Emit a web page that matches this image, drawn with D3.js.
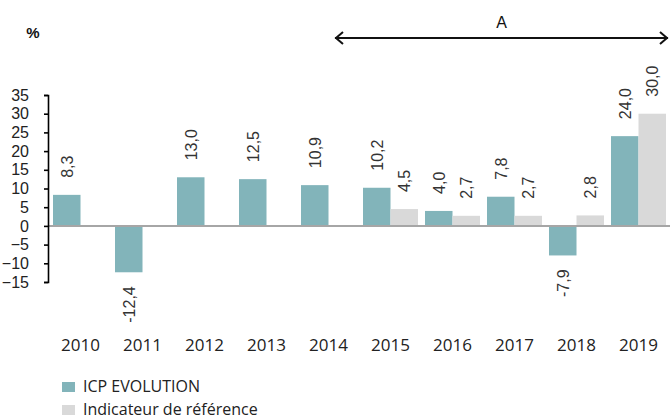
<!DOCTYPE html>
<html>
<head>
<meta charset="utf-8">
<script src="https://cdn.jsdelivr.net/npm/d3@7"></script>
<style>
  body { margin: 0; background: #fff; }
  svg { display: block; }
</style>
</head>
<body>
<svg width="670" height="419"></svg>
<script>
const years = ['2010', '2011', '2012', '2013', '2014', '2015', '2016', '2017', '2018', '2019']
const icpValues = [8.3, -12.4, 13.0, 12.5, 10.9, 10.2, 4.0, 7.8, -7.9, 24.0]
const refValues = [null, null, null, null, null, 4.5, 2.7, 2.7, 2.8, 30.0]
const yTicks = [35, 30, 25, 20, 15, 10, 5, 0, -5, -10, -15]
const seriesNames = ['ICP EVOLUTION', 'Indicateur de référence']
const periodLabel = 'A'
const periodYears = ['2015', '2019']

const colors = ['#82b4ba', '#d9d9d9']
const labelFont = '"Liberation Sans", Arial, sans-serif'
const textFont = '"Open Sans", sans-serif'

const svg = d3.select('svg')

const scaleX = d3.scaleBand().domain(years).range([53, 666]).paddingInner(7 / 62).paddingOuter(0)
const scaleSub = d3.scaleBand().domain([0, 1]).range([0, scaleX.bandwidth()])
const scaleY = d3.scaleLinear().domain([-15, 35]).range([282, 95])

const fmt = (v) => v.toFixed(1).replace('.', ',')

// rows: one per year & series
const rows = []
years.forEach((yr, i) => {
  rows.push({ year: yr, s: 0, v: icpValues[i] })
  if (refValues[i] !== null) rows.push({ year: yr, s: 1, v: refValues[i] })
})

// bars
svg.append('g')
  .selectAll('rect')
  .data(rows)
  .join('rect')
  .attr('x', (d) => scaleX(d.year) + scaleSub(d.s))
  .attr('width', scaleSub.bandwidth())
  .attr('y', (d) => scaleY(Math.max(0, d.v)))
  .attr('height', (d) => Math.abs(scaleY(d.v) - scaleY(0)))
  .attr('fill', (d) => colors[d.s])

// zero line
svg.append('line')
  .attr('x1', 48)
  .attr('x2', 670)
  .attr('y1', scaleY(0))
  .attr('y2', scaleY(0))
  .attr('stroke', '#a6a6a6')
  .attr('stroke-width', 2)

// y axis
const yAxis = d3.axisLeft(scaleY).tickValues(yTicks).tickSize(4).tickPadding(15).tickSizeOuter(4)
const gy = svg.append('g')
  .attr('transform', 'translate(48,0)')
  .call(yAxis)
gy.select('.domain').attr('stroke', '#000').attr('stroke-width', 1.6)
gy.selectAll('.tick line').attr('stroke', '#000').attr('stroke-width', 1.6)
gy.selectAll('.tick text')
  .attr('fill', '#222')
  .style('font-family', labelFont)
  .style('font-size', '16px')

// value labels
svg.append('g')
  .selectAll('text')
  .data(rows)
  .join('text')
  .attr('transform', (d) => {
    const cx = scaleX(d.year) + scaleSub(d.s) + scaleSub.bandwidth() / 2
    const cy = d.v >= 0 ? scaleY(d.v) - 17 : scaleY(d.v) + 14
    return `translate(${cx},${cy}) rotate(-90)`
  })
  .attr('dy', '0.36em')
  .attr('text-anchor', (d) => (d.v >= 0 ? 'start' : 'end'))
  .attr('fill', '#333')
  .style('font-family', labelFont)
  .style('font-size', '16px')
  .text((d) => fmt(d.v))

// x labels
svg.append('g')
  .selectAll('text')
  .data(years)
  .join('text')
  .attr('x', (d) => scaleX(d) + scaleX.bandwidth() / 2)
  .attr('y', 351)
  .attr('text-anchor', 'middle')
  .attr('fill', '#222')
  .style('font-family', textFont)
  .style('font-size', '17px')
  .text((d) => d)

// % unit
svg.append('text')
  .attr('x', 33)
  .attr('y', 38)
  .attr('text-anchor', 'middle')
  .attr('fill', '#111')
  .style('font-family', labelFont)
  .style('font-weight', 'bold')
  .style('font-size', '15px')
  .text('%')

// period arrow
const ax1 = scaleX(periodYears[0]) - 28
const ax2 = 668
const ay = 38
const arrow = svg.append('g').attr('stroke', '#111').attr('stroke-width', 2).attr('fill', 'none')
arrow.append('line').attr('x1', ax1).attr('x2', ax2).attr('y1', ay).attr('y2', ay)
arrow.append('path').attr('d', `M${ax1 + 8},${ay - 6} L${ax1 + 1},${ay} L${ax1 + 8},${ay + 6}`)
arrow.append('path').attr('d', `M${ax2 - 8},${ay - 6} L${ax2 - 1},${ay} L${ax2 - 8},${ay + 6}`)
svg.append('text')
  .attr('x', (ax1 + ax2) / 2)
  .attr('y', 28)
  .attr('text-anchor', 'middle')
  .attr('fill', '#111')
  .style('font-family', labelFont)
  .style('font-size', '16px')
  .text(periodLabel)

// legend
const legend = svg.append('g')
seriesNames.forEach((name, i) => {
  const ly = 382 + i * 23
  legend.append('rect')
    .attr('x', 62)
    .attr('y', ly)
    .attr('width', 13)
    .attr('height', 10)
    .attr('fill', colors[i])
  legend.append('text')
    .attr('x', 83)
    .attr('y', ly + 10)
    .attr('fill', '#222')
    .style('font-family', textFont)
    .style('font-size', '16px')
    .text(name)
})
</script>
</body>
</html>
